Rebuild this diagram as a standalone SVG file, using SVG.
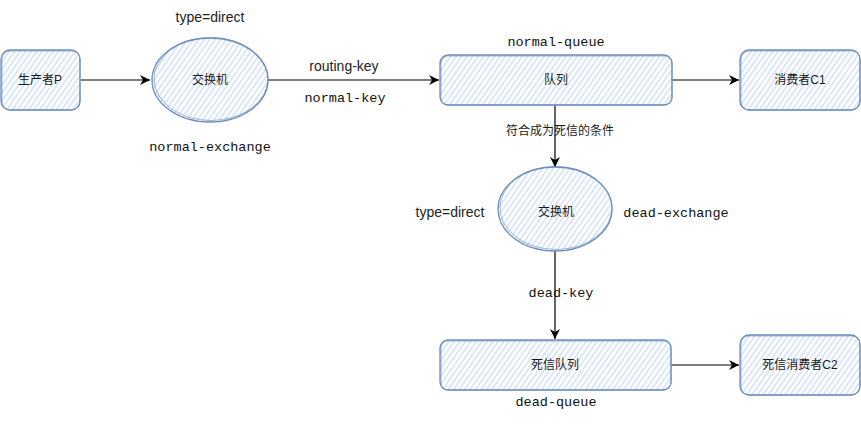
<svg xmlns="http://www.w3.org/2000/svg" width="861" height="426" viewBox="0 0 861 426">
<style>
.shape{fill:url(#hatch);stroke:#6c8ebf;stroke-width:1.3}
.sk{fill:none;stroke:#6c8ebf;stroke-width:0.8;opacity:0.8}
.lbl{font-family:"Liberation Sans","Noto Sans CJK SC",sans-serif;font-size:12px;fill:#1a1a1a;text-anchor:middle}
.sans{font-family:"Liberation Sans",Arial,sans-serif;font-size:14px;fill:#222;text-anchor:middle}
.mono{font-family:"Liberation Mono","Courier New",monospace;font-size:13.5px;fill:#111;text-anchor:middle}
.edge{stroke:#000;stroke-width:1.2;fill:none}
</style>
<defs>
<pattern id="hatch" patternUnits="userSpaceOnUse" width="4.5" height="4.5" patternTransform="rotate(35)">
<rect width="4.5" height="4.5" fill="#ffffff"/>
<line x1="1" y1="0" x2="1" y2="4.5" stroke="#d2e1f5" stroke-width="1.5"/>
</pattern>
<marker id="arr" viewBox="0 0 10 10" refX="10" refY="5" markerWidth="10" markerHeight="10" markerUnits="userSpaceOnUse" orient="auto">
<path d="M0,0 L10,5 L0,10 L3,5 Z" fill="#000"/>
</marker>
</defs>
<rect width="861" height="426" fill="#fff"/>
<g id="connectors">
<line class="edge" x1="81" y1="80" x2="150" y2="80" marker-end="url(#arr)"/>
<line class="edge" x1="268" y1="80" x2="439" y2="80" marker-end="url(#arr)"/>
<line class="edge" x1="672" y1="80" x2="739" y2="80" marker-end="url(#arr)"/>
<line class="edge" x1="555" y1="105" x2="555" y2="167" marker-end="url(#arr)"/>
<line class="edge" x1="555" y1="251" x2="555" y2="339" marker-end="url(#arr)"/>
<line class="edge" x1="671" y1="365" x2="739" y2="365" marker-end="url(#arr)"/>
</g>
<g id="producer">
<rect class="shape" x="1" y="50" width="79" height="60" rx="9"/>
<rect class="sk" x="2" y="51" width="78" height="59" rx="8"/>
<text class="lbl" x="40" y="84">生产者P</text>
</g>
<g id="normal-exchange">
<ellipse class="shape" cx="210" cy="80" rx="58" ry="42"/>
<ellipse class="sk" cx="211" cy="79" rx="57" ry="41.5"/>
<text class="lbl" x="210" y="84">交换机</text>
<text class="sans" x="210" y="22">type=direct</text>
<text class="mono" x="210" y="151">normal-exchange</text>
</g>
<g id="edge-labels">
<text class="sans" x="344" y="71">routing-key</text>
<text class="mono" x="345" y="102">normal-key</text>
<text class="lbl" x="560" y="135">符合成为死信的条件</text>
<text class="mono" x="561" y="297">dead-key</text>
</g>
<g id="normal-queue">
<rect class="shape" x="440" y="55" width="232" height="50" rx="8"/>
<rect class="sk" x="441" y="56" width="231" height="49" rx="7"/>
<text class="lbl" x="556" y="84">队列</text>
<text class="mono" x="556" y="46">normal-queue</text>
</g>
<g id="consumer-c1">
<rect class="shape" x="740" y="50" width="120" height="60" rx="9"/>
<rect class="sk" x="741" y="51" width="119" height="59" rx="8"/>
<text class="lbl" x="800" y="84">消费者C1</text>
</g>
<g id="dead-exchange">
<ellipse class="shape" cx="555" cy="209" rx="57" ry="42"/>
<ellipse class="sk" cx="556" cy="208" rx="56" ry="41.5"/>
<text class="lbl" x="556" y="216">交换机</text>
<text class="sans" x="450" y="217">type=direct</text>
<text class="mono" x="676" y="217">dead-exchange</text>
</g>
<g id="dead-queue">
<rect class="shape" x="440" y="340" width="231" height="50" rx="8"/>
<rect class="sk" x="441" y="341" width="230" height="49" rx="7"/>
<text class="lbl" x="555" y="369">死信队列</text>
<text class="mono" x="556" y="406">dead-queue</text>
</g>
<g id="consumer-c2">
<rect class="shape" x="740" y="335" width="120" height="60" rx="9"/>
<rect class="sk" x="741" y="336" width="119" height="59" rx="8"/>
<text class="lbl" x="800" y="369">死信消费者C2</text>
</g>
</svg>
